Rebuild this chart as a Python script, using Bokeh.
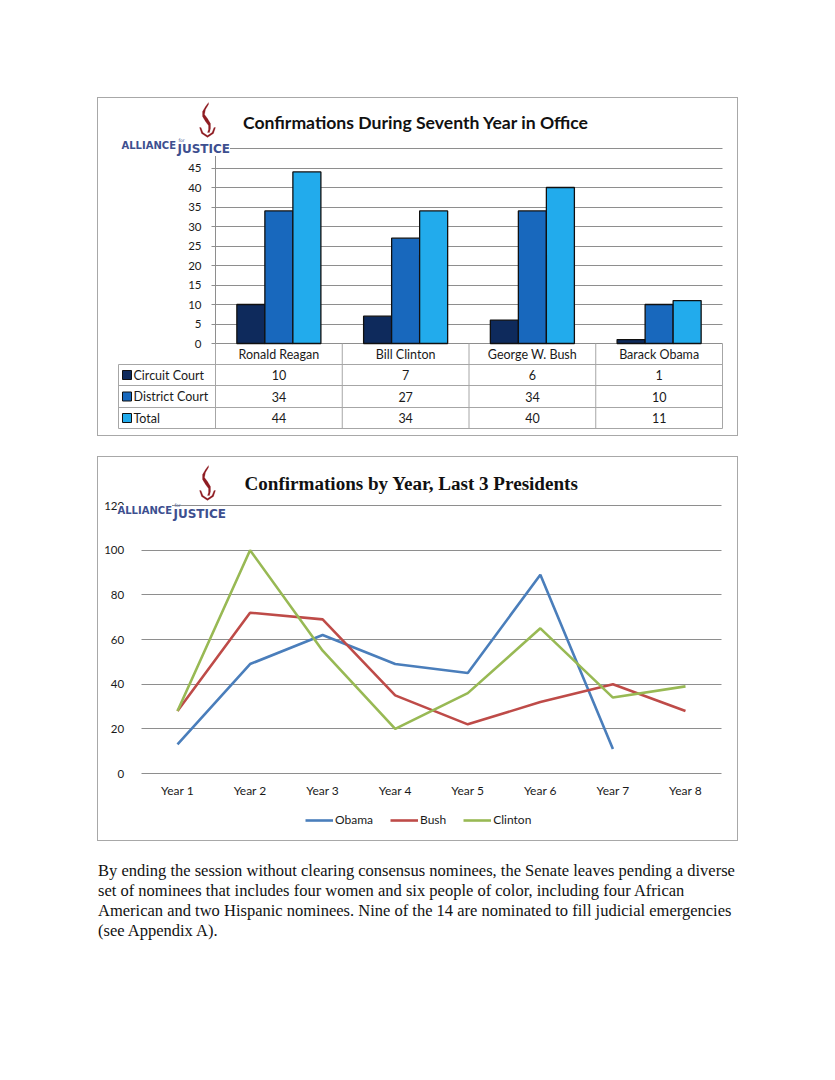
from bokeh.plotting import figure
from bokeh.models import (Range1d, ColumnDataSource, Label, Legend, LegendItem,
                          FixedTicker, Spacer, Div, PolyAnnotation)
from bokeh.layouts import column, row
from bokeh.transform import dodge
from bokeh.embed import file_html
from bokeh.resources import INLINE
from bokeh.core.properties import value

# ---------------- data ----------------
presidents = ["Ronald Reagan", "Bill Clinton", "George W. Bush", "Barack Obama"]
series_names = ["Circuit Court", "District Court", "Total"]
circuit = [10, 7, 6, 1]
district = [34, 27, 34, 10]
total = [44, 34, 40, 11]
bar_ticks = [0, 5, 10, 15, 20, 25, 30, 35, 40, 45, 50]

years = ["Year 1", "Year 2", "Year 3", "Year 4", "Year 5", "Year 6", "Year 7", "Year 8"]
obama = [13, 49, 62, 49, 45, 89, 11]
bush = [28, 72, 69, 35, 22, 32, 40, 28]
clinton = [28, 100, 55, 20, 36, 65, 34, 39]
line_ticks = [0, 20, 40, 60, 80, 100, 120]
line_names = ["Obama", "Bush", "Clinton"]

title1 = "Confirmations During Seventh Year in Office"
title2 = "Confirmations by Year, Last 3 Presidents"
paragraph = [
    "By ending the session without clearing consensus nominees, the Senate leaves pending a diverse",
    "set of nominees that includes four women and six people of color, including four African",
    "American and two Hispanic nominees. Nine of the 14 are nominated to fill judicial emergencies",
    "(see Appendix A).",
]

# ---------------- styles ----------------
BAR_COLORS = ["#0e2a5c", "#1868bd", "#22abec"]
LINE_COLORS = ["#4a7ebb", "#be4b48", "#98b954"]
GRID = "#8e8e8e"
TABLE_LINE = "#a6a6a6"
BOX = "1px solid #a8a8a8"
CAL = "Lato"
TXT = "#1a1a1a"
W = 639


def grid_lines(p, g, ticks, lo, hi, color):
    g.ticker = FixedTicker(ticks=ticks)
    g.grid_line_color = color
    try:
        g.cross_bounds = (lo, hi)
    except AttributeError:
        g.grid_line_color = None
        p.segment(x0=[lo] * len(ticks), x1=[hi] * len(ticks), y0=ticks, y1=ticks,
                  line_color=color, line_width=1, level="underlay")


def logo(p, fl, fb, fx, fy, tx, ty):
    """Alliance for Justice logo; (fl, fb) page coords of the frame's left/bottom,
    (fx, fy) page coords of the flame's top-left, (tx, ty) left/baseline of the words."""
    def sx(x):
        return x - fl

    def sy(y):
        return fb - y

    flame = [(9, 0), (6, 4), (3, 9), (3, 14), (6, 19), (9, 23), (9, 27), (8, 30),
             (10, 30), (11, 26), (11, 21), (8, 16), (5, 12), (6, 7), (9, 2)]
    bowl = [(0, 25), (2, 31), (8, 35), (14, 31), (16, 25), (14.5, 25), (12.5, 30),
            (8, 33), (3.5, 30), (1.5, 25)]
    for shape in (flame, bowl):
        p.add_layout(PolyAnnotation(xs=[sx(fx + a) for a, b in shape],
                                    ys=[sy(fy + b) for a, b in shape],
                                    xs_units="screen", ys_units="screen",
                                    fill_color="#8e1c22", fill_alpha=1,
                                    line_color="#8e1c22", line_width=0.6))
    p.add_layout(Label(x=sx(tx), y=sy(ty), x_units="screen", y_units="screen",
                       text="ALLIANCE", text_font="DejaVu Sans", text_font_style="bold",
                       text_font_size="10px", text_color="#3d4f8f", text_baseline="alphabetic",
                       background_fill_color="white", padding=0))
    p.add_layout(Label(x=sx(tx + 56), y=sy(ty + 3.5), x_units="screen", y_units="screen",
                       text="JUSTICE", text_font="DejaVu Sans", text_font_style="bold",
                       text_font_size="12px", text_color="#3d4f8f", text_baseline="alphabetic",
                       background_fill_color="white", padding=0))
    p.add_layout(Label(x=sx(tx + 57), y=sy(ty - 5.5), x_units="screen", y_units="screen",
                       text="for", text_font="DejaVu Sans",
                       text_font_size="4.5px", text_color="#3d4f8f", text_baseline="alphabetic"))


# ================= chart 1: bars + table in one frame =================
# page geometry of the box: x 98..737, y 98..435
B1L, B1T, B1B = 98, 98, 435
CW = 126.75            # px per president column
X0 = 215               # page x of the value axis
Y0, YPX = 343, 3.9     # page y of 0, px per unit


def X1(px):
    return (px - X0) / CW


def Y1(py):
    return (Y0 - py) / YPX


bar = figure(x_range=Range1d(X1(B1L), X1(B1L + W)), y_range=Range1d(Y1(B1B), Y1(B1T)),
             width=W, height=B1B - B1T, min_border=0,
             output_backend="svg", toolbar_location=None, outline_line_color=None,
             styles={"outline": BOX})

idx = list(range(len(presidents)))
centers = [i + 0.5 for i in idx]
bw = 0.221
src = ColumnDataSource(dict(xc=centers, circuit=circuit, district=district, total=total))
for off, col, c in zip([-bw, 0, bw], ["circuit", "district", "total"], BAR_COLORS):
    bar.vbar(x=dodge("xc", off, range=bar.x_range), top=col, bottom=0,
             width=bw, source=src, fill_color=c, line_color="#101010", line_width=1.3)

bar.xgrid.grid_line_color = None
grid_lines(bar, bar.ygrid, bar_ticks, 0, len(presidents), GRID)

ya = bar.yaxis[0]
ya.fixed_location = 0
ya.bounds = (0, 50)
ya.ticker = FixedTicker(ticks=bar_ticks)
ya.axis_line_color = GRID
ya.major_tick_line_color = GRID
ya.major_tick_out = 4
ya.major_tick_in = 0
ya.minor_tick_line_color = None
ya.major_label_standoff = 10
ya.major_label_text_font = CAL
ya.major_label_text_font_size = "11.5px"
ya.major_label_text_color = TXT

xa = bar.xaxis[0]
xa.fixed_location = 0
xa.ticker = FixedTicker(ticks=centers)
xa.major_label_overrides = {c: n for c, n in zip(centers, presidents)}
xa.axis_line_color = None
xa.major_tick_line_color = None
xa.minor_tick_line_color = None
xa.major_tick_out = 0
xa.major_tick_in = 0
xa.major_label_standoff = 3
xa.major_label_text_font = CAL
xa.major_label_text_font_size = "12.5px"
xa.major_label_text_color = TXT

# table grid
rows_px = [343, 364, 385, 407, 428]
TL, TR = 118, 722
hy = [Y1(v) for v in rows_px[1:]]
bar.segment(x0=[X1(TL)] * len(hy), x1=[X1(TR)] * len(hy), y0=hy, y1=hy,
            line_color=TABLE_LINE, line_width=1)
vx = [X1(TL)] + [float(i) for i in range(len(presidents) + 1)]
vtop = [Y1(rows_px[1])] + [Y1(rows_px[0])] * (len(presidents) + 1)
bar.segment(x0=vx, x1=vx, y0=[Y1(rows_px[-1])] * len(vx), y1=vtop,
            line_color=TABLE_LINE, line_width=1)
row_y = [Y1((rows_px[k] + rows_px[k + 1]) / 2) for k in range(1, 4)]
for vals, yy in zip([circuit, district, total], row_y):
    bar.text(x=centers, y=[yy] * len(centers), text=[str(v) for v in vals], text_align="center",
             text_baseline="middle", text_font=value(CAL), text_font_size=value("12.5px"),
             text_color=TXT)
bar.scatter(x=[X1(TL + 8.5)] * 3, y=row_y, marker="square", size=9, fill_color=BAR_COLORS,
            line_color="#101010", line_width=1)
bar.text(x=[X1(TL + 15)] * 3, y=row_y, text=series_names, text_align="left",
         text_baseline="middle", text_font=value(CAL), text_font_size=value("12.5px"),
         text_color=TXT)

bar.add_layout(Label(x=415.5 - B1L, y=B1B - 122, x_units="screen", y_units="screen",
                     text=title1, text_font=CAL, text_font_style="bold", text_font_size="17.6px",
                     text_align="center", text_baseline="middle", text_color="#111111"))
logo(bar, B1L, B1B, 199, 102, 121, 145)

# ================= chart 2: lines =================
B2L, B2T, B2B = 98, 457, 840
YX0, YW = 177, 72.571   # page x of Year 1, px per year
L0, LPX = 773, 268 / 120


def X2(px):
    return (px - YX0) / YW


def Y2(py):
    return (L0 - py) / LPX


ln = figure(x_range=Range1d(X2(B2L), X2(B2L + W)), y_range=Range1d(Y2(B2B), Y2(B2T)),
            width=W, height=B2B - B2T, min_border=0,
            output_backend="svg", toolbar_location=None, outline_line_color=None,
            styles={"outline": BOX})
rs = []
for data, c in zip([obama, bush, clinton], LINE_COLORS):
    rs.append(ln.line(x=list(range(len(data))), y=data, line_color=c, line_width=2.6))
ln.xgrid.grid_line_color = None
grid_lines(ln, ln.ygrid, line_ticks, -0.5, len(years) - 0.5, GRID)

ya2 = ln.yaxis[0]
ya2.fixed_location = -0.5
ya2.bounds = (0, 120)
ya2.ticker = FixedTicker(ticks=line_ticks)
ya2.major_label_standoff = 17
ya2.major_label_text_font_size = "11.5px"
xa2 = ln.xaxis[0]
xa2.fixed_location = 0
xa2.ticker = FixedTicker(ticks=list(range(len(years))))
xa2.major_label_overrides = {i: y for i, y in enumerate(years)}
xa2.major_label_standoff = 9
xa2.major_label_text_font_size = "12px"
for ax in (ya2, xa2):
    ax.axis_line_color = None
    ax.major_tick_line_color = None
    ax.minor_tick_line_color = None
    ax.major_tick_out = 0
    ax.major_tick_in = 0
    ax.major_label_text_font = CAL
    ax.major_label_text_color = TXT

legend = Legend(items=[LegendItem(label=n, renderers=[r]) for n, r in zip(line_names, rs)],
                orientation="horizontal", location=(307 - B2L - 2, B2B - 827),
                border_line_color=None, background_fill_alpha=0, padding=2, spacing=17,
                margin=0, glyph_width=28, glyph_height=14, label_standoff=2,
                label_text_font=CAL, label_text_font_size="12px", label_text_color=TXT)
ln.add_layout(legend, "center")
ln.add_layout(Label(x=411 - B2L, y=B2B - 483, x_units="screen", y_units="screen",
                    text=title2, text_font="Liberation Serif", text_font_style="bold",
                    text_font_size="19.1px", text_align="center", text_baseline="middle",
                    text_color="#111111"))
logo(ln, B2L, B2B, 199, 465, 117, 510)

# ================= paragraph =================
div = Div(text="<br>".join(paragraph), width=690,
          styles={"font-family": "Liberation Serif", "font-size": "16.5px",
                  "line-height": "20px", "color": "#111111"})

page = column(Spacer(height=B1T),
              row(Spacer(width=B1L), bar),
              Spacer(height=B2T - B1B),
              row(Spacer(width=B2L), ln),
              Spacer(height=16),
              row(Spacer(width=B2L - 5), div))

open("out.html", "w").write(file_html(page, INLINE))
